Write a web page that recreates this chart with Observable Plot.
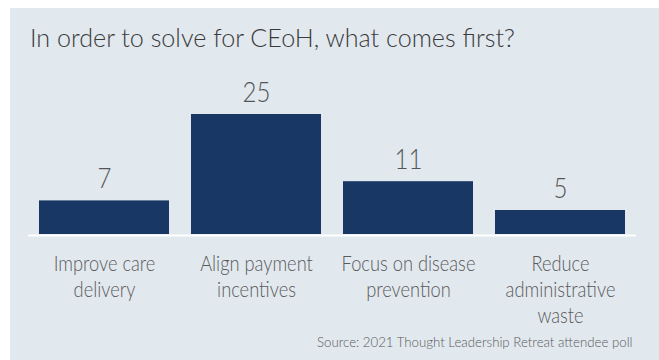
<!DOCTYPE html>
<html>
<head>
<meta charset="utf-8">
<script src="https://cdn.jsdelivr.net/npm/d3@7"></script>
<script src="https://cdn.jsdelivr.net/npm/@observablehq/plot@0.6"></script>
<style>
  html, body { margin: 0; padding: 0; background: #ffffff; }
  body { width: 659px; height: 360px; position: relative; overflow: hidden; font-family: "Lato", "Open Sans", sans-serif; font-weight: 300; }
  #panel { position: absolute; left: 10px; top: 8px; width: 649px; height: 352px; background: #e1e8ee; }
  #title { position: absolute; left: 30px; top: 21px; font-size: 26px; line-height: 32px; color: #3b3b3b; white-space: nowrap; transform-origin: 0 50%; transform: scaleX(0.966); }
  #chart { position: absolute; left: 10px; top: 60px; }
  #source { position: absolute; right: 27px; top: 333px; font-size: 14px; line-height: 18px; color: #5a5a5a; white-space: nowrap; transform-origin: 100% 50%; transform: scaleX(0.946); }
</style>
</head>
<body>
<div id="panel"></div>
<div id="title">In order to solve for CEoH, what comes first?</div>
<div id="chart"></div>
<div id="source">Source: 2021 Thought Leadership Retreat attendee poll</div>
<script>
const categories = ["Improve care\ndelivery", "Align payment\nincentives", "Focus on disease\nprevention", "Reduce\nadministrative\nwaste"];
const values = [7, 25, 11, 5];

const data = categories.map((c, i) => ({category: c, value: values[i]}));

const chart = Plot.plot({
  width: 649,
  height: 270,
  marginLeft: 18,
  marginRight: 23,
  marginTop: 54,
  marginBottom: 96,
  style: {background: "transparent", fontFamily: "Lato, 'Open Sans', sans-serif", fontWeight: 300},
  x: {domain: categories, padding: 0, axis: null},
  y: {domain: [0, 25], axis: null},
  marks: [
    Plot.barY(data, {x: "category", y: "value", fill: "#183764", insetLeft: 11, insetRight: 11}),
    Plot.ruleY([0], {stroke: "#ffffff", strokeWidth: 2, dy: 1}),
    Plot.text(data, {x: "category", y: "value", text: d => String(d.value), dy: -13, lineAnchor: "bottom", fontSize: 28, fill: "#555555"}),
    Plot.text(data, {x: "category", y: 0, text: "category", dy: 18, lineAnchor: "top", lineHeight: 1.24, fontSize: 21, fill: "#5a5a5a"})
  ]
});
document.getElementById("chart").appendChild(chart);

function squeeze(fs, s) {
  chart.querySelectorAll(`g[font-size="${fs}"] text`).forEach(el => {
    const tr = el.getAttribute("transform");
    if (tr) {
      el.setAttribute("transform", tr + ` scale(${s},1)`);
    } else {
      const x = +el.getAttribute("x") || 0, y = +el.getAttribute("y") || 0;
      el.setAttribute("transform", `translate(${x},${y}) scale(${s},1) translate(${-x},${-y})`);
    }
  });
}
squeeze(28, 0.86);
squeeze(21, 0.87);
</script>
</body>
</html>
